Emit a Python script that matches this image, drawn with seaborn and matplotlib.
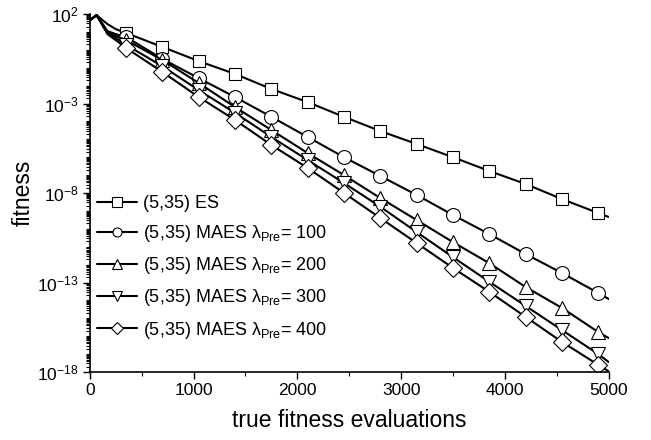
import numpy as np
import pandas as pd
import matplotlib
matplotlib.use('Agg')
import matplotlib.pyplot as plt
import matplotlib.ticker as mticker
from matplotlib.lines import Line2D
import seaborn as sns

# evaluations at which the curves were read (markers every 350)
evals = [0, 65, 170, 250, 350, 700, 1050, 1400, 1750, 2100, 2450, 2800,
         3150, 3500, 3850, 4200, 4550, 4900, 5000]

es = [45.7, 87, 27.5, 14.5, 8.7, 1.45, 0.234, 4.5e-2, 6.5e-3, 1.2e-3, 1.8e-4,
      2.9e-5, 5.5e-6, 1.0e-6, 1.7e-7, 3.2e-8, 4.6e-9, 7.6e-10, 4.6e-10]
maes_100 = [45.7, 87, 11.2, 7.6, 5.2, 0.31, 2.6e-2, 2.3e-3, 1.8e-4, 1.35e-5,
            1.0e-6, 8.9e-8, 7.8e-9, 5.9e-10, 5.1e-11, 3.9e-12, 3.4e-13,
            2.6e-14, 1.2e-14]
maes_200 = [45.7, 87, 9.8, 5.9, 3.5, 0.27, 1.4e-2, 6.3e-4, 3.3e-5, 1.7e-6,
            1.0e-7, 5.2e-9, 3.1e-10, 1.8e-11, 1.2e-12, 5.6e-14, 3.8e-15,
            1.7e-16, 7.9e-17]
maes_300 = [45.7, 87, 8.7, 4.6, 1.9, 0.12, 5.6e-3, 3.0e-4, 1.35e-5, 6.9e-7,
            3.6e-8, 1.7e-9, 6.6e-11, 2.6e-12, 1.1e-13, 4.9e-15, 2.2e-16,
            1.0e-17, 3.6e-18]
maes_400 = [45.7, 87, 7.6, 3.5, 1.26, 5.8e-2, 2.3e-3, 1.2e-4, 4.8e-6, 2.5e-7,
            1.0e-8, 4.0e-10, 1.6e-11, 6.5e-13, 3.0e-14, 1.2e-15, 4.8e-17,
            2.5e-18, 1.1e-18]

labels = ['(5,35) ES',
          '(5,35) MAES λ$_{\\mathrm{Pre}}$= 100',
          '(5,35) MAES λ$_{\\mathrm{Pre}}$= 200',
          '(5,35) MAES λ$_{\\mathrm{Pre}}$= 300',
          '(5,35) MAES λ$_{\\mathrm{Pre}}$= 400']
markers = ['s', 'o', '^', 'v', 'D']
sizes = [9, 10, 10.5, 10.5, 9]


def main():
    sns.set_theme(style='ticks')
    plt.rcParams['font.family'] = ['Liberation Sans', 'DejaVu Sans']
    plt.rcParams['mathtext.fontset'] = 'custom'
    plt.rcParams['mathtext.rm'] = 'Liberation Sans'
    plt.rcParams['mathtext.it'] = 'Liberation Sans:italic'
    plt.rcParams['axes.unicode_minus'] = False

    series = [es, maes_100, maes_200, maes_300, maes_400]
    df = pd.concat([pd.DataFrame({'evals': evals, 'fitness': s, 'run': lab})
                    for s, lab in zip(series, labels)])

    fig = plt.figure(figsize=(6.51, 4.40), dpi=100)
    ax = fig.add_axes([0.138, 0.1545, 0.797, 0.8135])

    for lab, m, ms in zip(labels, markers, sizes):
        sub = df[df['run'] == lab]
        sns.lineplot(data=sub, x='evals', y='fitness', ax=ax, color='black',
                     linewidth=1.5, marker=m, markersize=ms,
                     markerfacecolor='white', markeredgecolor='black',
                     markeredgewidth=0.8, markevery=slice(4, 18),
                     legend=False)

    ax.set_yscale('log')
    ax.set_xlim(0, 5000)
    ax.set_ylim(1e-18, 1e2)
    ax.yaxis.set_major_locator(mticker.FixedLocator([1e2, 1e-3, 1e-8, 1e-13, 1e-18]))
    ax.yaxis.set_major_formatter(mticker.LogFormatterSciNotation())
    ax.yaxis.set_minor_locator(mticker.LogLocator(base=10, subs=np.arange(1, 10), numticks=200))
    ax.yaxis.set_minor_formatter(mticker.NullFormatter())
    ax.xaxis.set_major_locator(mticker.MultipleLocator(1000))
    ax.xaxis.set_minor_locator(mticker.MultipleLocator(500))

    ax.tick_params(axis='both', which='major', direction='out', length=5,
                   width=1, colors='black', labelsize=12.5, pad=3)
    ax.tick_params(axis='both', which='minor', direction='out', length=3,
                   width=0.8, colors='black')
    for sp in ['left', 'bottom']:
        ax.spines[sp].set_color('black')
        ax.spines[sp].set_linewidth(1.2)
    sns.despine(ax=ax)

    ax.set_xlabel('true fitness evaluations', fontsize=16.5, labelpad=8,
                  color='black')
    ax.set_ylabel('fitness', fontsize=16.5, labelpad=2, color='black')

    handles = [Line2D([], [], color='black', linewidth=1.5, marker=m,
                      markersize=6.5, markerfacecolor='white',
                      markeredgecolor='black', markeredgewidth=0.8)
               for m in markers]
    ax.legend(handles, labels, loc='upper left',
              bbox_to_anchor=(0.0, 0.515), frameon=False, fontsize=13,
              labelcolor='black', handlelength=2.2, handletextpad=0.33,
              labelspacing=0.62, borderaxespad=0)

    fig.savefig('out.png', dpi=100)
    plt.close(fig)


if __name__ == '__main__':
    main()
